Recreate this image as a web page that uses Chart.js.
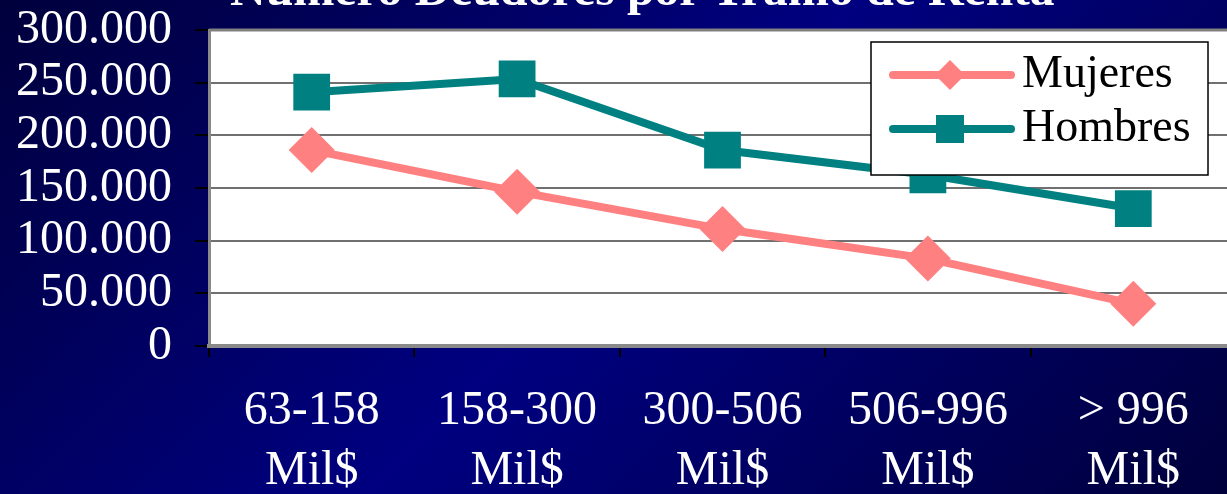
<!DOCTYPE html>
<html><head><meta charset="utf-8">
<script src="https://cdn.jsdelivr.net/npm/chart.js@4/dist/chart.umd.min.js"></script>
<style>
html,body{margin:0;padding:0;width:1227px;height:494px;overflow:hidden;}
body{background:linear-gradient(135deg,#00003c 0%,#000080 50%,#00003c 100%);position:relative;}
#c{position:absolute;left:0;top:0;width:1236px;height:494px;}
#title{position:absolute;left:230px;top:-35px;font:bold 49.5px/48px "Liberation Serif",serif;color:#fff;white-space:nowrap;z-index:2;}
</style></head><body>
<canvas id="c" width="1236" height="494"></canvas>
<div id="title">Número Deudores por Tramo de Renta</div>
<script>
const categories = [['63-158','Mil$'],['158-300','Mil$'],['300-506','Mil$'],['506-996','Mil$'],['> 996','Mil$']];
const seriesNames = ['Mujeres','Hombres'];
const mujeres = [186000,146500,111000,83000,40000];
const hombres = [241000,253500,186000,162500,130500];
const yMin = 0, yMax = 300000, yStep = 50000;

function fmt(v){ return String(v).replace(/\B(?=(\d{3})+(?!\d))/g,'.'); }

const plotFrame = {
  id:'plotFrame',
  beforeDraw(chart){
    const {ctx, chartArea:a} = chart;
    ctx.save();
    ctx.fillStyle='#ffffff';
    ctx.fillRect(a.left,a.top,a.right-a.left,a.bottom-a.top);
    ctx.restore();
  },
  beforeDatasetsDraw(chart){
    const {ctx, chartArea:a} = chart;
    ctx.save();
    ctx.strokeStyle='#808080'; ctx.lineWidth=3;
    ctx.beginPath(); ctx.moveTo(a.left,a.top); ctx.lineTo(a.right,a.top); ctx.stroke();
    ctx.restore();
  }
};

const innerLegend = {
  id:'innerLegend',
  afterDatasetsDraw(chart){
    const {ctx} = chart;
    const bx=871, by=42, bw=337, bh=133;
    ctx.save();
    ctx.fillStyle='#fff'; ctx.fillRect(bx,by,bw,bh);
    ctx.strokeStyle='#000'; ctx.lineWidth=1.5; ctx.strokeRect(bx,by,bw,bh);
    chart.data.datasets.forEach((ds,i)=>{
      const y = 75 + i*54;
      ctx.strokeStyle = ds.borderColor; ctx.lineWidth = 8; ctx.lineCap='round';
      ctx.beginPath(); ctx.moveTo(893,y); ctx.lineTo(1011,y); ctx.stroke();
      ctx.fillStyle = ds.backgroundColor;
      ctx.beginPath();
      if (ds.pointStyle==='rectRot'){
        const r=15;
        ctx.moveTo(950-r,y); ctx.lineTo(950,y-r); ctx.lineTo(950+r,y); ctx.lineTo(950,y+r);
      } else {
        const s=14;
        ctx.rect(950-s,y-s,2*s,2*s);
      }
      ctx.closePath(); ctx.fill();
      ctx.fillStyle='#000'; ctx.font='46px "Liberation Serif", serif';
      ctx.textBaseline='alphabetic'; ctx.textAlign='left';
      ctx.fillText(ds.label, 1022, y+12);
    });
    ctx.restore();
  }
};

new Chart(document.getElementById('c'), {
  type:'line',
  data:{
    labels: categories,
    datasets:[
      {label:seriesNames[0], data:mujeres, borderColor:'#FF8080', backgroundColor:'#FF8080',
       borderWidth:8, pointStyle:'rectRot', pointRadius:23, pointBorderWidth:0, pointHoverRadius:23, tension:0, clip:false},
      {label:seriesNames[1], data:hombres, borderColor:'#008080', backgroundColor:'#008080',
       borderWidth:8, pointStyle:'rect', pointRadius:26, pointBorderWidth:0, pointHoverRadius:26, tension:0, clip:false}
    ]
  },
  options:{
    responsive:false, devicePixelRatio:1, animation:false,
    layout:{autoPadding:false, padding:{top:30,left:0,right:0,bottom:0}},
    plugins:{legend:{display:false}, tooltip:{enabled:false}, title:{display:false}},
    scales:{
      x:{
        offset:true,
        grid:{offset:true, drawOnChartArea:false, tickLength:11, tickColor:'#000', lineWidth:2},
        border:{color:'#8a8a8a', width:4},
        ticks:{color:'#fff', font:{family:'"Liberation Serif", serif', size:48, lineHeight:1.25}, padding:24, maxRotation:0, autoSkip:false},
        afterFit(s){ s.height = 148; s.paddingLeft = 0; s.paddingRight = 0; }
      },
      y:{
        min:yMin, max:yMax,
        grid:{color:'#707070', lineWidth:2, tickLength:14, tickColor:'#000'},
        border:{color:'#8a8a8a', width:3},
        ticks:{stepSize:yStep, autoSkip:false, color:'#fff', font:{family:'"Liberation Serif", serif', size:48}, padding:23, callback:(v)=>fmt(v)},
        afterFit(s){ s.width = 209; s.paddingTop = 0; s.paddingBottom = 0; }
      }
    }
  },
  plugins:[plotFrame, innerLegend]
});
</script>
</body></html>
